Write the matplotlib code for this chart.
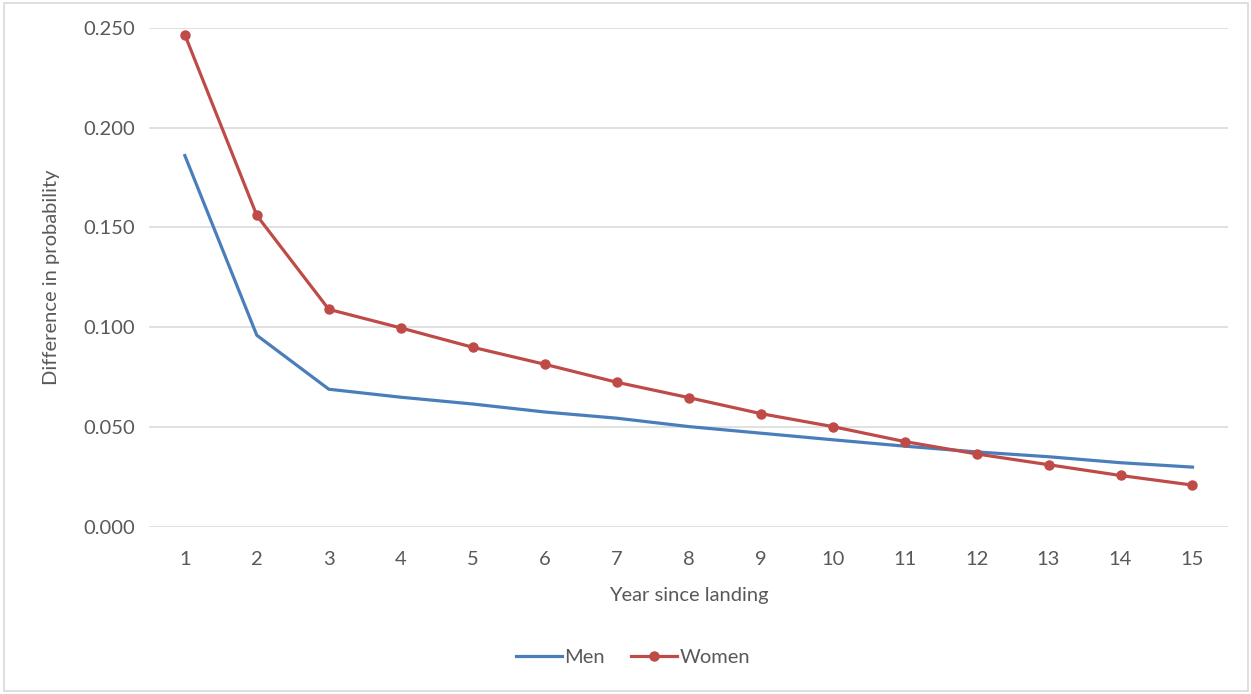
import numpy as np
import matplotlib
matplotlib.use("Agg")
import matplotlib.pyplot as plt
from matplotlib.patches import Rectangle

plt.rcParams["font.family"] = ["Lato", "DejaVu Sans"]

# Difference in probability by year since landing
years = list(range(1, 16))
men = [0.186, 0.096, 0.069, 0.065, 0.0616, 0.0576, 0.0545, 0.0503, 0.047,
       0.0437, 0.0405, 0.0376, 0.0352, 0.0322, 0.030]
women = [0.2465, 0.156, 0.109, 0.0997, 0.090, 0.0815, 0.0725, 0.0648, 0.0568,
         0.0503, 0.0428, 0.0366, 0.0312, 0.0258, 0.021]

BLUE = "#4A7EBB"
RED = "#BE4B48"
TXT = "#595959"

fig = plt.figure(figsize=(12.51, 6.94), dpi=100)
ax = fig.add_axes([0.119, 0.2406, 0.863, 0.7194])

ax.plot(years, men, color=BLUE, lw=2.3, label="Men", zorder=3)
ax.plot(years, women, color=RED, lw=2.3, marker="o", markersize=6.5,
        label="Women", zorder=4)

ax.set_xlim(0.5, 15.5)
ax.set_ylim(0, 0.25)
ax.set_xticks(years)
ax.set_yticks(np.arange(0, 0.2501, 0.05))
ax.yaxis.set_major_formatter(matplotlib.ticker.FormatStrFormatter("%.3f"))
ax.tick_params(length=0, labelsize=14.5, colors=TXT, pad=10)
ax.tick_params(axis="x", pad=17)
ax.grid(axis="y", color="#D9D9D9", lw=1.1)
ax.set_axisbelow(True)
for s in ax.spines.values():
    s.set_visible(False)

ax.set_xlabel("Year since landing", fontsize=14.5, color=TXT, labelpad=14)
ax.set_ylabel("Difference in probability", fontsize=14.5, color=TXT, labelpad=17)

leg = fig.legend(loc="center", bbox_to_anchor=(0.506, 0.053), ncol=2,
                 frameon=False, fontsize=14.5, handlelength=2.3,
                 handletextpad=0.1, columnspacing=1.3)
for t in leg.get_texts():
    t.set_color(TXT)

# light outline round the whole chart
fig.add_artist(Rectangle((0.003, 0.004), 0.995, 0.992, transform=fig.transFigure,
                         fill=False, edgecolor="#D9D9D9", lw=1.2))

fig.savefig("out.png", dpi=100)
